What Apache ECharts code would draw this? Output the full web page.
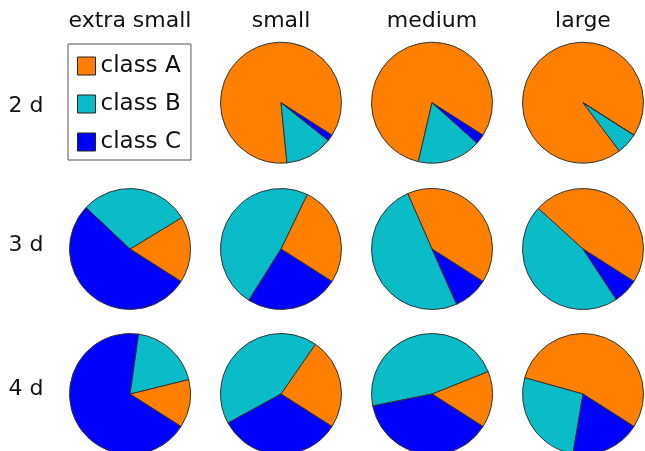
<!DOCTYPE html>
<html>
<head>
<meta charset="utf-8">
<script src="https://cdn.jsdelivr.net/npm/echarts@6/dist/echarts.min.js"></script>
<style>
  html, body { margin: 0; padding: 0; background: #fff; }
  #chart { width: 645px; height: 451px; }
</style>
</head>
<body>
<div id="chart"></div>
<script>
// Column and row headings of the pie grid
const sizes = ['extra small', 'small', 'medium', 'large'];
const durations = ['2 d', '3 d', '4 d'];
const classes = ['class A', 'class B', 'class C'];

// Share of each class (%) per duration row and size column; null = legend cell
const classA = [
  [null, 85.6, 80.4, 94.3],
  [17.7, 26.9, 40.6, 47.3],
  [12.9, 24.4, 15.1, 54.7]
];
const classB = [
  [null, 12.7, 17.0, 5.7],
  [29.3, 48.2, 50.1, 46.0],
  [18.9, 42.6, 47.1, 26.7]
];
const classC = [
  [null, 1.7, 2.6, 0],
  [53.0, 24.9, 9.3, 6.7],
  [68.2, 33.0, 37.8, 18.6]
];

const palette = ['#ff8000', '#0abbc8', '#0000ff'];
const FONT = 'DejaVu Sans';

// Grid geometry (pixels)
const colX = [130, 281, 432, 583];
const rowY = [102.7, 249, 394];
const rowLabelY = [106.5, 245, 389];
const pieR = 60.5;

const series = [];
durations.forEach((d, r) => {
  sizes.forEach((s, c) => {
    if (classA[r][c] === null) return;
    series.push({
      type: 'pie',
      name: d + ' / ' + s,
      center: [colX[c], rowY[r]],
      radius: pieR,
      startAngle: -32.5,
      clockwise: false,
      silent: true,
      label: { show: false },
      labelLine: { show: false },
      itemStyle: { borderColor: '#333', borderWidth: 1 },
      emphasis: { disabled: true },
      data: [
        { name: classes[0], value: classA[r][c] },
        { name: classes[1], value: classB[r][c] },
        { name: classes[2], value: classC[r][c] }
      ]
    });
  });
});

const titles = [];
sizes.forEach((s, c) => {
  titles.push({
    text: s, left: colX[c], top: 21.7, padding: 0,
    textAlign: 'center', textVerticalAlign: 'middle',
    textStyle: { fontFamily: FONT, fontSize: 22, fontWeight: 'normal', color: '#111' }
  });
});
durations.forEach((d, r) => {
  titles.push({
    text: d, left: 8.5, top: rowLabelY[r], padding: 0,
    textAlign: 'left', textVerticalAlign: 'middle',
    textStyle: { fontFamily: FONT, fontSize: 22, fontWeight: 'normal', color: '#111' }
  });
});

const chart = echarts.init(document.getElementById('chart'));
chart.setOption({
  animation: false,
  backgroundColor: '#fff',
  color: palette,
  title: titles,
  legend: {
    data: classes,
    orient: 'vertical',
    left: 68,
    top: 44,
    padding: [10, 10, 6, 9],
    itemWidth: 18,
    itemHeight: 18,
    itemGap: 14,
    icon: 'rect',
    selectedMode: false,
    borderColor: '#555',
    borderWidth: 1,
    itemStyle: { borderColor: '#222', borderWidth: 1 },
    textStyle: { fontFamily: FONT, fontSize: 23, color: '#111', lineHeight: 24 }
  },
  series: series
});
</script>
</body>
</html>
